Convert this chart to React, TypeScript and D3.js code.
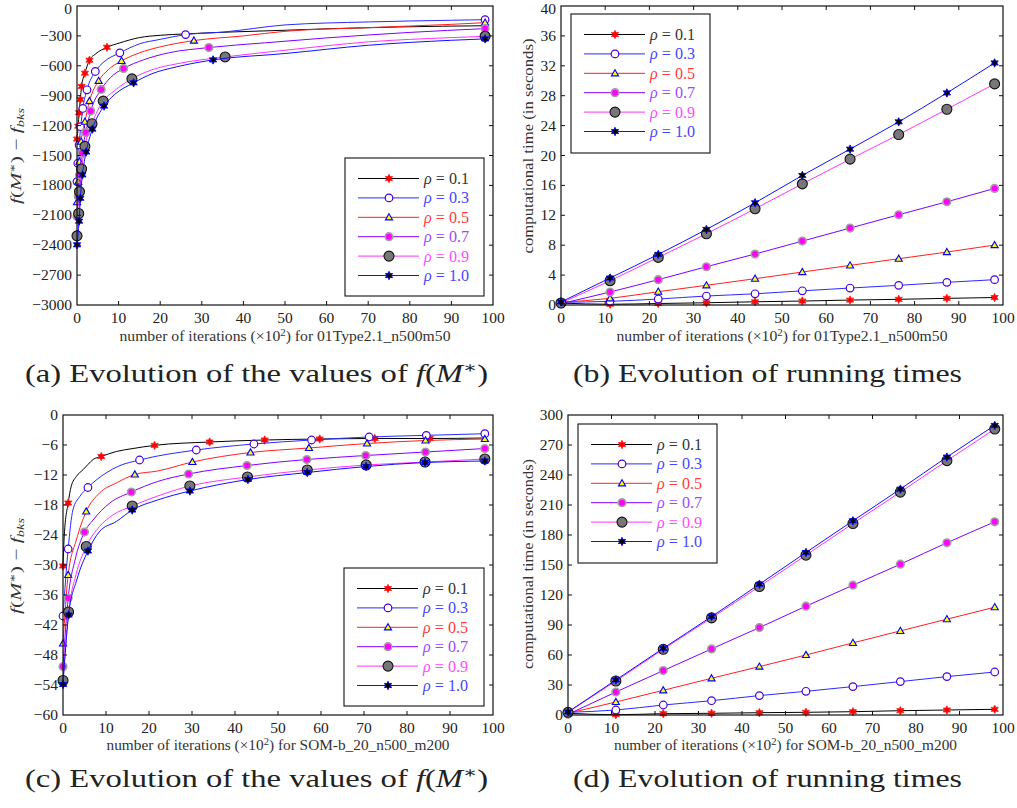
import * as d3 from 'd3';

type Pt = [number, number];

const rhoLabels = ['0.1', '0.3', '0.5', '0.7', '0.9', '1.0'];
const lineColors = ['#000000', '#2a2aff', '#ff1f1f', '#8000ff', '#ff33ff', '#1010ff'];
const legendTextColors = ['#333333', '#4646ff', '#ff3a3a', '#9a4aff', '#ff4aff', '#4646ff'];
const markerKinds = ['star', 'ring', 'tri', 'dot', 'big', 'dstar'];

const xTicks = [0, 10, 20, 30, 40, 50, 60, 70, 80, 90, 100];
const aYTicks = [0, -300, -600, -900, -1200, -1500, -1800, -2100, -2400, -2700, -3000];
const bYTicks = [0, 4, 8, 12, 16, 20, 24, 28, 32, 36, 40];
const cYTicks = [0, -6, -12, -18, -24, -30, -36, -42, -48, -54, -60];
const dYTicks = [0, 30, 60, 90, 120, 150, 180, 210, 240, 270, 300];

// (a) 01Type2.1_n500m50 : f(M*) - f_bks  (marks = marker points, extra = other line points)
const aR01Marks: Pt[] = [[0, -1335], [0.3, -1205], [0.5, -1071], [0.8, -938], [1.1, -807], [1.9, -674], [3.0, -544], [7.2, -414]];
const aR01Extra: Pt[] = [[4.5, -480], [10.3, -370], [15, -317], [20, -294], [26, -280], [37.5, -260], [49.5, -244], [61.5, -227], [77.6, -210], [98.2, -198]];
const aR03Marks: Pt[] = [[0, -1762], [0.2, -1578], [0.5, -1395], [0.9, -1211], [1.4, -1028], [2.4, -841], [4.4, -657], [10.3, -470], [26.1, -287], [98.1, -137]];
const aR03Extra: Pt[] = [[6.5, -560], [15, -380], [20, -335], [35, -262], [50, -190], [70, -160], [90, -143]];
const aR05Marks: Pt[] = [[0, -1969], [0.3, -1762], [0.6, -1562], [1.0, -1361], [1.9, -1161], [3.0, -954], [5.2, -751], [10.7, -551], [28.1, -347], [98.1, -167]];
const aR05Extra: Pt[] = [[7.5, -640], [15, -470], [20, -410], [40, -300], [50, -254], [70, -217], [90, -184]];
const aR07Marks: Pt[] = [[0, -2112], [0.3, -1912], [0.6, -1695], [1.2, -1478], [2.1, -1268], [3.3, -1054], [5.8, -837], [11.2, -627], [31.7, -417], [98.1, -227]];
const aR07Extra: Pt[] = [[8, -720], [16, -540], [22, -470], [45, -370], [60, -320], [80, -265]];
const aR09Marks: Pt[] = [[0, -2306], [0.4, -2082], [0.6, -1862], [1.1, -1635], [1.9, -1408], [3.6, -1181], [6.3, -954], [13.2, -731], [35.6, -511], [98.1, -304]];
const aR09Extra: Pt[] = [[9, -850], [18, -640], [24, -580], [50, -444], [70, -360], [90, -317]];
const aR10Marks: Pt[] = [[0, -2396], [0.5, -2159], [0.8, -1929], [1.3, -1695], [2.2, -1465], [3.7, -1235], [6.5, -1004], [13.6, -771], [32.7, -541], [98.1, -330]];
const aR10Extra: Pt[] = [[9, -890], [18, -680], [24, -610], [50, -477], [70, -394], [90, -344]];

// (b) running times, 01Type2.1_n500m50
const bX = [0, 11.1, 22.0, 32.9, 43.9, 54.6, 65.4, 76.4, 87.3, 98.1];
const bR01 = [0.25, 0.1, 0.2, 0.3, 0.43, 0.53, 0.66, 0.76, 0.89, 1.0];
const bR03 = [0.36, 0.49, 0.8, 1.2, 1.5, 1.9, 2.27, 2.63, 3.03, 3.39];
const bR05 = [0.36, 0.89, 1.78, 2.63, 3.52, 4.41, 5.3, 6.19, 7.08, 8.02];
const bR07 = [0.18, 1.74, 3.39, 5.12, 6.82, 8.55, 10.29, 12.07, 13.81, 15.59];
const bR09 = [0.27, 3.25, 6.37, 9.53, 12.87, 16.21, 19.51, 22.8, 26.19, 29.58];
const bR10 = [0.4, 3.61, 6.77, 10.11, 13.67, 17.33, 20.85, 24.5, 28.37, 32.38];

// (c) SOM-b_20_n500_m200 : f(M*) - f_bks
const cR01Marks: Pt[] = [[0, -30.2], [1.2, -17.6], [8.9, -8.3], [21.3, -6.07], [34.1, -5.4], [46.9, -5.0], [59.7, -4.8], [72.5, -4.7], [85.3, -4.7]];
const cR01Extra: Pt[] = [[0.3, -24], [1.9, -14.3], [3.1, -12.3], [4.7, -10.9], [5.8, -9.9], [7, -8.9], [12.4, -7.3], [16.3, -6.7], [98.1, -4.6]];
const cR03Marks: Pt[] = [[0, -40.2], [1.2, -26.8], [5.8, -14.5], [17.8, -9.0], [31, -7.0], [44.4, -5.8], [57.8, -5.0], [71.2, -4.4], [84.5, -4.07], [98.1, -3.74]];
const cR03Extra: Pt[] = [[2.3, -19], [3.9, -16.3], [10, -11.6], [13, -10.2]];
const cR05Marks: Pt[] = [[0, -45.7], [1.2, -32], [5.4, -19.3], [16.7, -11.9], [30.1, -9.4], [43.6, -7.5], [57.2, -6.6], [70.7, -5.7], [84.3, -5.1], [98.1, -4.8]];
const cR05Extra: Pt[] = [[3.1, -25], [8.5, -15.6], [12.4, -13.6], [22, -11.2]];
const cR07Marks: Pt[] = [[0, -50.3], [1.2, -36.6], [5, -23.4], [15.9, -15.4], [29.2, -11.8], [42.8, -10.1], [56.7, -8.9], [70.4, -8.1], [84.3, -7.4], [98.1, -6.7]];
const cR07Extra: Pt[] = [[2.8, -29], [7, -21], [10.9, -17.6], [22, -13.3]];
const cR09Marks: Pt[] = [[0, -53.1], [1.3, -39.4], [5.4, -26.3], [16.1, -18.2], [29.5, -14.2], [42.9, -12.4], [56.8, -11.0], [70.5, -10.0], [84.2, -9.4], [98.1, -8.8]];
const cR09Extra: Pt[] = [[3, -32], [8.5, -22.3], [11.6, -20], [22, -16.2]];
const cR10Marks: Pt[] = [[0, -53.9], [1.3, -40], [5.8, -27.2], [16.1, -19], [29.5, -15.2], [43, -12.9], [56.8, -11.5], [70.5, -10.3], [84.2, -9.5], [98.1, -9.2]];
const cR10Extra: Pt[] = [[3.2, -33], [8.5, -23.3], [12.4, -21.3], [22, -17]];

// (d) running times, SOM-b_20_n500_m200
const dX = [0, 11.0, 21.9, 33.0, 44.0, 54.7, 65.5, 76.4, 87.1, 98.1];
const dR01 = [1.7, 0.3, 1.3, 1.7, 2.3, 2.7, 3.3, 4.3, 5, 5.7];
const dR03 = [2.7, 5, 10, 14.3, 19.4, 23.7, 28.4, 33.4, 38.4, 43];
const dR05 = [1.7, 13, 24.7, 36.7, 48.4, 60, 72.1, 84.1, 95.8, 107.8];
const dR07 = [0.7, 23, 44.4, 66.1, 87.4, 108.8, 129.8, 150.8, 172.2, 193.2];
const dR09 = [2.7, 34, 65.7, 97.1, 128.5, 159.8, 191.5, 222.9, 254.3, 286];
const dR10 = [3, 35, 66.7, 98.4, 130.8, 162.5, 194.2, 225.9, 257.9, 289.6];

const FONT = "'Liberation Serif', 'DejaVu Serif', serif";

const merge = (m: Pt[], e: Pt[]) => [...m, ...e].sort((p, q) => p[0] - q[0]);
const zip = (xs: number[], ys: number[]): Pt[] => xs.map((v, i) => [v, ys[i]]);

const star6 = (() => {
  const pts: string[] = [];
  for (let k = 0; k < 12; k++) {
    const a = (Math.PI / 6) * k - Math.PI / 2;
    const r = k % 2 === 0 ? 4.2 : 2.2;
    pts.push(`${(r * Math.cos(a)).toFixed(2)},${(r * Math.sin(a)).toFixed(2)}`);
  }
  return 'M' + pts.join('L') + 'Z';
})();

function Marker({ kind, cx, cy }: { kind: string; cx: number; cy: number }) {
  const t = `translate(${cx},${cy})`;
  if (kind === 'star') return <path d={star6} transform={t} fill="#ff0000" stroke="#ff2020" strokeWidth={0.8} />;
  if (kind === 'ring') return <circle cx={cx} cy={cy} r={3.8} fill="#fff" stroke="#4a00d8" strokeWidth={1.2} />;
  if (kind === 'tri')
    return <path d={d3.symbol(d3.symbolTriangle, 22)() || ''} transform={`translate(${cx},${cy + 0.5})`} fill="#ffff00" stroke="#0000ff" strokeWidth={1.1} />;
  if (kind === 'dot') return <circle cx={cx} cy={cy} r={3.8} fill="#ff00ff" stroke="#a0a0a0" strokeWidth={1.6} />;
  if (kind === 'big') return <circle cx={cx} cy={cy} r={5} fill="#777" stroke="#111" strokeWidth={1.1} />;
  return <path d={star6} transform={t} fill="#000" stroke="#0000ff" strokeWidth={0.9} />;
}

type PanelProps = {
  x0: number; x1: number; y0: number; y1: number;
  yDomain: [number, number];
  yTicks: number[];
  lines: Pt[][];
  marks: Pt[][];
  legend: { x: number; y: number; w: number; h: number };
  xLabel: string;
  xLabelY: number;
  xLabelW: number;
  yLabel: any;
  yLabelX: number;
  yLabelY: number;
  yLabelW: number;
  caption: any;
  captionX: number;
  captionY: number;
  captionW: number;
};

function Panel(p: PanelProps) {
  const x = d3.scaleLinear().domain([0, 100]).range([p.x0, p.x1]);
  const y = d3.scaleLinear().domain(p.yDomain).range([p.y1, p.y0]);
  const line = d3.line<Pt>().x((d) => x(d[0])).y((d) => y(d[1])).curve(d3.curveMonotoneX);
  const tl = 4;
  const lg = p.legend;
  const parts = p.xLabel.split('|');
  return (
    <g fontFamily={FONT}>
      {p.lines.map((ln, i) => (
        <g key={i}>
          <path d={line(ln) || ''} fill="none" stroke={lineColors[i]} strokeWidth={1} />
          {p.marks[i].map((m, j) => (
            <Marker key={j} kind={markerKinds[i]} cx={x(m[0])} cy={y(m[1])} />
          ))}
        </g>
      ))}
      <rect x={p.x0} y={p.y0} width={p.x1 - p.x0} height={p.y1 - p.y0} fill="none" stroke="#111" strokeWidth={1.2} />
      {xTicks.map((t) => (
        <g key={'x' + t}>
          {t > 0 && t < 100 && (
            <>
              <line x1={x(t)} x2={x(t)} y1={p.y1} y2={p.y1 - tl} stroke="#111" />
              <line x1={x(t)} x2={x(t)} y1={p.y0} y2={p.y0 + tl} stroke="#111" />
            </>
          )}
          <text x={x(t)} y={p.y1 + 18} textAnchor="middle" fontSize={15.5} fill="#222">
            {t}
          </text>
        </g>
      ))}
      {p.yTicks.map((t) => (
        <g key={'y' + t}>
          {t !== p.yDomain[0] && t !== p.yDomain[1] && (
            <>
              <line x1={p.x0} x2={p.x0 + tl} y1={y(t)} y2={y(t)} stroke="#111" />
              <line x1={p.x1} x2={p.x1 - tl} y1={y(t)} y2={y(t)} stroke="#111" />
            </>
          )}
          <text x={p.x0 - 5} y={Math.max(y(t) + 5, 14)} textAnchor="end" fontSize={15.5} fill="#222">
            {String(t).replace('-', '\u2212')}
          </text>
        </g>
      ))}
      <text
        x={(p.x0 + p.x1) / 2 - p.xLabelW / 2}
        y={p.xLabelY}
        fontSize={14.5}
        fill="#333"
        textLength={p.xLabelW}
        lengthAdjust="spacingAndGlyphs"
      >
        {parts[0]}
        <tspan dy={-5} fontSize={10}>2</tspan>
        <tspan dy={5}>{parts[1]}</tspan>
      </text>
      <text
        transform={`translate(${p.yLabelX},${p.yLabelY + p.yLabelW / 2}) rotate(-90)`}
        fontSize={15}
        fill="#333"
        textLength={p.yLabelW}
        lengthAdjust="spacingAndGlyphs"
      >
        {p.yLabel}
      </text>
      <rect x={lg.x} y={lg.y} width={lg.w} height={lg.h} fill="#fff" stroke="#111" strokeWidth={1.1} />
      {rhoLabels.map((r, i) => {
        const ry = lg.y + 20.5 + i * 19.4;
        return (
          <g key={r}>
            <line x1={lg.x + 13} x2={lg.x + 74} y1={ry} y2={ry} stroke={lineColors[i]} strokeWidth={1} />
            <Marker kind={markerKinds[i]} cx={lg.x + 44} cy={ry} />
            <text x={lg.x + 79} y={ry + 5.5} fontSize={17} fill={legendTextColors[i]} textLength={45} lengthAdjust="spacingAndGlyphs">
              <tspan fontStyle="italic">ρ</tspan> = {r}
            </text>
          </g>
        );
      })}
      <text x={p.captionX} y={p.captionY} fontSize={25} fill="#222" textLength={p.captionW} lengthAdjust="spacingAndGlyphs">
        {p.caption}
      </text>
    </g>
  );
}

const fLabel = (
  <>
    <tspan fontStyle="italic">f</tspan>(<tspan fontStyle="italic">M</tspan>
    <tspan dy={-5} fontSize={10}>∗</tspan>
    <tspan dy={5}>) − </tspan>
    <tspan fontStyle="italic">f</tspan>
    <tspan dy={3} fontSize={10} fontStyle="italic">bks</tspan>
  </>
);

const fCaption = (letter: string) => (
  <>
    ({letter}) Evolution of the values of <tspan fontStyle="italic">f</tspan>(<tspan fontStyle="italic">M</tspan>
    <tspan dy={-9} fontSize={16}>∗</tspan>
    <tspan dy={9}>)</tspan>
  </>
);

export default function App() {
  return (
    <svg width={1017} height={808} style={{ position: 'absolute', left: 0, top: 0, background: '#fff' }}>
      <rect width={1017} height={808} fill="#fff" />
      <Panel
        x0={77} x1={493} y0={6} y1={305}
        yDomain={[-3000, 0]} yTicks={aYTicks}
        lines={[merge(aR01Marks, aR01Extra), merge(aR03Marks, aR03Extra), merge(aR05Marks, aR05Extra), merge(aR07Marks, aR07Extra), merge(aR09Marks, aR09Extra), merge(aR10Marks, aR10Extra)]}
        marks={[aR01Marks, aR03Marks, aR05Marks, aR07Marks, aR09Marks, aR10Marks]}
        legend={{ x: 345, y: 158, w: 139, h: 138 }}
        xLabel="number of iterations (×10|) for 01Type2.1_n500m50" xLabelY={341} xLabelW={331}
        yLabel={fLabel} yLabelX={21} yLabelY={156} yLabelW={96}
        caption={fCaption('a')} captionX={25} captionY={382} captionW={463}
      />
      <Panel
        x0={561} x1={1003} y0={6} y1={305}
        yDomain={[0, 40]} yTicks={bYTicks}
        lines={[zip(bX, bR01), zip(bX, bR03), zip(bX, bR05), zip(bX, bR07), zip(bX, bR09), zip(bX, bR10)]}
        marks={[zip(bX, bR01), zip(bX, bR03), zip(bX, bR05), zip(bX, bR07), zip(bX, bR09), zip(bX, bR10)]}
        legend={{ x: 571, y: 14, w: 139, h: 139 }}
        xLabel="number of iterations (×10|) for 01Type2.1_n500m50" xLabelY={341} xLabelW={331}
        yLabel="computational time (in seconds)" yLabelX={533} yLabelY={146} yLabelW={215}
        caption="(b) Evolution of running times" captionX={573} captionY={382} captionW={389}
      />
      <Panel
        x0={63} x1={493} y0={415} y1={715}
        yDomain={[-60, 0]} yTicks={cYTicks}
        lines={[merge(cR01Marks, cR01Extra), merge(cR03Marks, cR03Extra), merge(cR05Marks, cR05Extra), merge(cR07Marks, cR07Extra), merge(cR09Marks, cR09Extra), merge(cR10Marks, cR10Extra)]}
        marks={[cR01Marks, cR03Marks, cR05Marks, cR07Marks, cR09Marks, cR10Marks]}
        legend={{ x: 344, y: 568, w: 140, h: 138 }}
        xLabel="number of iterations (×10|) for SOM-b_20_n500_m200" xLabelY={750} xLabelW={343}
        yLabel={fLabel} yLabelX={21} yLabelY={566} yLabelW={96}
        caption={fCaption('c')} captionX={25} captionY={787} captionW={463}
      />
      <Panel
        x0={568} x1={1003} y0={415} y1={715}
        yDomain={[0, 300]} yTicks={dYTicks}
        lines={[zip(dX, dR01), zip(dX, dR03), zip(dX, dR05), zip(dX, dR07), zip(dX, dR09), zip(dX, dR10)]}
        marks={[zip(dX, dR01), zip(dX, dR03), zip(dX, dR05), zip(dX, dR07), zip(dX, dR09), zip(dX, dR10)]}
        legend={{ x: 578, y: 424, w: 139, h: 139 }}
        xLabel="number of iterations (×10|) for SOM-b_20_n500_m200" xLabelY={750} xLabelW={343}
        yLabel="computational time (in seconds)" yLabelX={533} yLabelY={564} yLabelW={210}
        caption="(d) Evolution of running times" captionX={573} captionY={787} captionW={389}
      />
    </svg>
  );
}
